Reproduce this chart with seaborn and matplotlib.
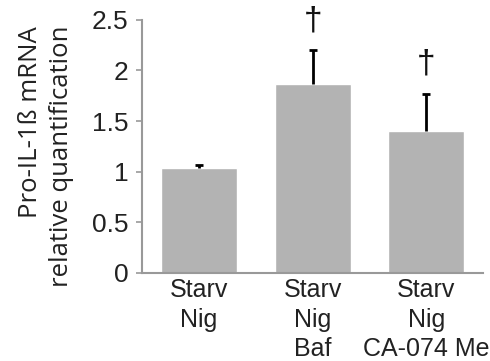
import pandas as pd
import numpy as np
import matplotlib
matplotlib.use("Agg")
import matplotlib.pyplot as plt
import seaborn as sns

# data
conditions = ["Starv\nNig", "Starv\nNig\nBaf", "Starv\nNig\nCA-074 Me"]
means = [1.04, 1.87, 1.40]
sem_upper = [0.03, 0.33, 0.37]
marks = ["", "\u2020", "\u2020"]

df = pd.DataFrame({"Condition": conditions, "Value": means})

sns.set_style("white")
plt.rcParams["font.family"] = ["Liberation Sans", "DejaVu Sans"]

fig = plt.figure(figsize=(4.9, 3.61), dpi=100)
ax = fig.add_axes([0.29, 0.244, 0.696, 0.701])

sns.barplot(data=df, x="Condition", y="Value", color="#b3b3b3",
            saturation=1, width=0.67, errorbar=None, ax=ax)

xs = np.arange(len(conditions))
_, caps, _ = ax.errorbar(xs, means, yerr=[np.zeros(len(means)), sem_upper], fmt="none",
                         ecolor="black", elinewidth=2, capsize=3, capthick=2)
caps[0].set_visible(False)  # only the upper cap

for x, m, e, s in zip(xs, means, sem_upper, marks):
    if s:
        ax.text(x, m + e + 0.29, s, ha="center", va="center", fontsize=24,
                color="#111111", clip_on=False)

ax.set_ylim(0, 2.5)
ax.set_xlim(-0.5, 2.5)
ax.set_yticks([0, 0.5, 1, 1.5, 2, 2.5])
ax.set_yticklabels(["0", "0.5", "1", "1.5", "2", "2.5"], fontsize=19, color="#222222")
ax.set_xticks(xs)
ax.set_xticklabels(conditions, fontsize=18, color="#222222", linespacing=1.28, va="top")
ax.set_xticks([0.5, 1.5, 2.5], minor=True)
ax.tick_params(axis="x", which="major", length=0, pad=4)
ax.tick_params(axis="x", which="minor", length=4, width=1.2, color="#999999", direction="out")
ax.tick_params(axis="y", length=4, width=1.2, color="#999999", direction="out", pad=6, left=True)

for side in ["top", "right"]:
    ax.spines[side].set_visible(False)
for side in ["left", "bottom"]:
    ax.spines[side].set_color("#999999")
    ax.spines[side].set_linewidth(1.5)

ax.set_xlabel("")
ax.set_ylabel("")
fig.text(0.094, 0.566, "Pro-IL-1ß mRNA\nrelative quantification", rotation=90,
         ha="center", va="center", multialignment="right", linespacing=1.3,
         fontsize=18.5, family=["Open Sans", "DejaVu Sans"], color="#222222")

fig.savefig("out.png", dpi=100)
